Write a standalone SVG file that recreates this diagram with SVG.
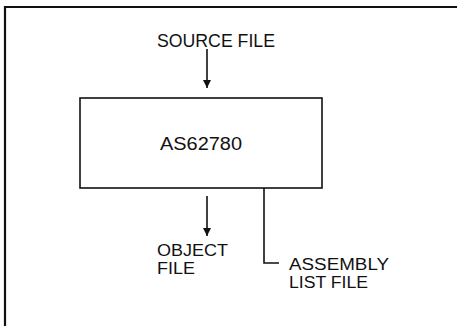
<svg xmlns="http://www.w3.org/2000/svg" width="457" height="326" viewBox="0 0 457 326">
<style>
text{font-family:"Liberation Sans",Arial,sans-serif;font-size:18px;fill:#111}
.two{font-size:16px}
.ln{stroke:#111;stroke-width:1.6;fill:none}
</style>
<defs>
<marker id="ah" viewBox="0 0 8 14" refX="8" refY="7" markerWidth="8" markerHeight="14" markerUnits="userSpaceOnUse" orient="auto">
<path d="M0,3 L8,7 L0,11 Z" fill="#111"/>
</marker>
</defs>
<rect width="457" height="326" fill="#fff"/>
<path d="M5,326 V7 H457" stroke="#111" stroke-width="2.2" fill="none"/>
<g id="source"><text x="157" y="46.5" textLength="118" lengthAdjust="spacingAndGlyphs">SOURCE FILE</text></g>
<g id="as62780">
<rect x="80" y="98" width="242" height="90" class="ln"/>
<text x="160" y="149.5" textLength="82" lengthAdjust="spacingAndGlyphs">AS62780</text>
</g>
<g id="object"><text class="two"><tspan x="157" y="256" textLength="71" lengthAdjust="spacingAndGlyphs">OBJECT</tspan><tspan x="157" y="274" textLength="38" lengthAdjust="spacingAndGlyphs">FILE</tspan></text></g>
<g id="assembly"><text class="two"><tspan x="289" y="270" textLength="100" lengthAdjust="spacingAndGlyphs">ASSEMBLY</tspan><tspan x="289" y="288" textLength="79" lengthAdjust="spacingAndGlyphs">LIST FILE</tspan></text></g>
<g id="connectors">
<line x1="207" y1="49" x2="207" y2="88" class="ln" marker-end="url(#ah)"/>
<line x1="207" y1="196" x2="207" y2="236" class="ln" marker-end="url(#ah)"/>
<polyline points="264,188 264,263 279,263" class="ln"/>
</g>
</svg>
